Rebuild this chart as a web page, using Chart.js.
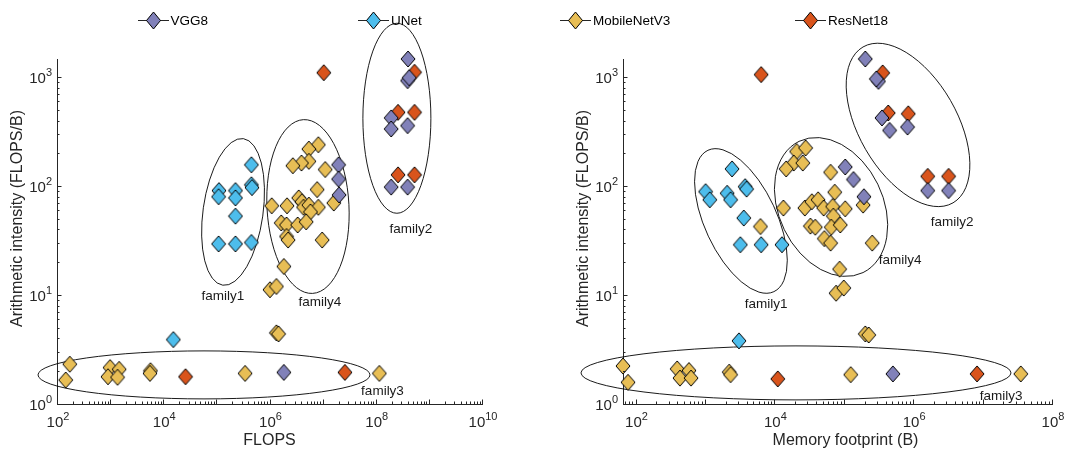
<!DOCTYPE html>
<html>
<head>
<meta charset="utf-8">
<title>Arithmetic intensity vs FLOPS and memory footprint</title>
<script src="https://cdn.jsdelivr.net/npm/chart.js@4.4.1/dist/chart.umd.min.js"></script>
<style>
  html, body { margin: 0; padding: 0; background: #fff; }
  #wrap { position: relative; width: 1075px; height: 452px; overflow: hidden;
          font-family: "Liberation Sans", Arial, Helvetica, sans-serif; }
  #wrap canvas { position: absolute; top: 0; }
  #cFlops { left: 0; }
  #cMem { left: 537px; }
  .leg { position: absolute; top: 10px; height: 20px; display: flex; align-items: center;
         font-size: 13.5px; color: #000; white-space: nowrap; }
  .leg span { margin-left: 2px; }
</style>
</head>
<body>
<div id="wrap">
  <canvas id="cFlops" width="537" height="452"></canvas>
  <canvas id="cMem" width="538" height="452"></canvas>
</div>
<script>
// ---- series ----
const seriesNames  = ['VGG8', 'UNet', 'MobileNetV3', 'ResNet18'];
const seriesColors = ['#8181B9', '#4DBDEC', '#E8BE55', '#D9541C'];

// [FLOPS, arithmetic intensity]
const vgg8ByFlops = [
  [4.05e8, 1470], [3.98e8, 930], [4.27e8, 990], [1.95e8, 423], [1.95e8, 335], [3.98e8, 359],
  [1.95e8, 98], [3.98e8, 98], [2.0e7, 157], [2.0e7, 116], [2.04e7, 83], [1.86e6, 1.95]
];
const unetByFlops = [
  [4.57e5, 157], [4.57e5, 103], [4.68e5, 97], [1.12e5, 91], [1.10e5, 80], [2.29e5, 91],
  [2.29e5, 78], [2.29e5, 53], [1.10e5, 29.5], [2.29e5, 29.5], [4.57e5, 30.4], [1.55e4, 3.9]
];
const mobilenetByFlops = [
  [174, 2.32], [146, 1.66], [1000, 2.16], [912, 1.78], [1480, 2.08], [1380, 1.76],
  [5750, 2.02], [5620, 1.91], [3.47e5, 1.91], [1.17e8, 1.91],
  [1.35e6, 4.5], [1.48e6, 4.4], [1.02e6, 11.2], [1.35e6, 12.0], [1.86e6, 18.3],
  [8.3e6, 240], [5.5e6, 219], [5.5e6, 169], [4.0e6, 163], [2.75e6, 154], [1.12e7, 142],
  [7.9e6, 93], [1.62e7, 70], [1.1e6, 66], [2.14e6, 66], [3.55e6, 78], [4.07e6, 72],
  [4.37e6, 64], [5.5e6, 67], [8.3e6, 64], [5.9e6, 58], [1.66e6, 46], [2.09e6, 44],
  [3.39e6, 44], [4.9e6, 47], [2.09e6, 34.5], [2.24e6, 32], [9.8e6, 32]
];
const resnetByFlops = [
  [1.05e7, 1100], [5.37e8, 1110], [2.63e8, 476], [5.37e8, 476], [2.63e8, 127], [5.37e8, 127],
  [2.63e4, 1.78], [2.63e7, 1.95]
];

// [memory footprint (B), arithmetic intensity]
const vgg8ByMemory = [
  [2.04e5, 1470], [3.16e5, 917], [2.95e5, 965], [3.55e5, 423], [4.57e5, 325], [8.3e5, 349],
  [1.62e6, 91], [3.24e6, 91], [1.05e5, 150], [1.38e5, 115], [1.95e5, 80], [5.1e5, 1.89]
];
const unetByMemory = [
  [2455, 144], [1023, 89], [1175, 75], [2089, 86], [2344, 75], [3800, 99],
  [3981, 94], [3631, 51], [3236, 29], [6457, 29], [12880, 29], [3090, 3.8]
];
const mobilenetByMemory = [
  [66, 2.23], [78, 1.58], [398, 2.10], [437, 1.73], [589, 2.03], [631, 1.73],
  [2239, 1.96], [2344, 1.86], [1.26e5, 1.86], [3.55e7, 1.89],
  [2.04e5, 4.4], [2.29e5, 4.3], [7.76e4, 10.4], [1.0e5, 11.6], [8.7e4, 17.3],
  [2.09e4, 208], [2.82e4, 224], [1.9e4, 163], [1.48e4, 144], [2.57e4, 163], [6.46e4, 134],
  [7.41e4, 88], [1.35e4, 63], [2.75e4, 63], [3.47e4, 72], [4.27e4, 75], [5.13e4, 63],
  [6.92e4, 65], [1.05e5, 62], [7.08e4, 53], [1.9e5, 67], [3.31e4, 43], [3.89e4, 42],
  [6.61e4, 42], [8.91e4, 44], [5.25e4, 33], [6.46e4, 30], [2.57e5, 30], [6310, 42.6]
];
const resnetByMemory = [
  [6457, 1057], [3.63e5, 1096], [4.37e5, 470], [8.51e5, 462], [1.62e6, 123], [3.24e6, 123],
  [1.12e4, 1.70], [8.32e6, 1.89]
];

// ---- axes ----
const intensityRange = [1, 1470];
const flopsRange     = [1e2, 1e10];
const memoryRange    = [66, 1e8];
const intensityTickExp = [0, 1, 2, 3];
const flopsTickExp     = [2, 4, 6, 8, 10];
const memoryTickExp    = [2, 4, 6, 8];
const intensityTitle = 'Arithmetic intensity (FLOPS/B)';

// ---- cluster outlines (centre in data units, radii in px, rotation in degrees) ----
const familiesByFlops = [
  { name: 'family1', cx: 2.06e5, cy: 58,   rx: 30,  ry: 74, rot: 8,  tx: 1.33e5, ty: 9.8 },
  { name: 'family4', cx: 5.3e6,  cy: 65,   rx: 41,  ry: 87, rot: -3, tx: 8.9e6,  ty: 8.6 },
  { name: 'family2', cx: 2.5e8,  cy: 420,  rx: 34,  ry: 95, rot: 0,  tx: 4.6e8,  ty: 40.5 },
  { name: 'family3', cx: 5.85e4, cy: 1.85, rx: 166, ry: 24, rot: 0,  tx: 1.34e8, ty: 1.32 }
];
const familiesByMemory = [
  { name: 'family1', cx: 3.3e3,  cy: 47.9, rx: 78,  ry: 36, rot: 65, tx: 7.6e3,  ty: 8.3 },
  { name: 'family4', cx: 6.56e4, cy: 64.4, rx: 73,  ry: 52, rot: 64, tx: 6.47e5, ty: 21 },
  { name: 'family2', cx: 8.43e5, cy: 365,  rx: 90,  ry: 49, rot: 60, tx: 3.63e6, ty: 46.9 },
  { name: 'family3', cx: 2.05e4, cy: 1.93, rx: 215, ry: 27, rot: 0,  tx: 1.85e7, ty: 1.18 }
];

const FONT = '"Liberation Sans", Arial, Helvetica, sans-serif';
const AXIS_COLOR = '#262626';

// diamond marker as a small canvas image
function diamond(color) {
  const w = 14, h = 16, c = document.createElement('canvas');
  c.width = w + 2; c.height = h + 2;
  const g = c.getContext('2d');
  g.beginPath();
  g.moveTo(1 + w / 2, 1);
  g.lineTo(1 + w, 1 + h / 2);
  g.lineTo(1 + w / 2, 1 + h);
  g.lineTo(1, 1 + h / 2);
  g.closePath();
  g.fillStyle = color; g.fill();
  g.lineWidth = 1; g.strokeStyle = '#000'; g.stroke();
  return c;
}
const markers = seriesColors.map(diamond);

function logTicks(min, max) {
  const out = [];
  for (let e = Math.floor(Math.log10(min)); e <= Math.ceil(Math.log10(max)); e++) {
    for (let m = 1; m <= 9; m++) {
      const v = m * Math.pow(10, e);
      if (v >= min * 0.9999 && v <= max * 1.0001) out.push({ v, major: m === 1 });
    }
  }
  return out;
}

// power-of-ten label: "10" with a raised exponent
function powerLabel(ctx, exp, x, y, align) {
  const base = '10', sup = String(exp);
  ctx.font = '15px ' + FONT;
  const wb = ctx.measureText(base).width;
  ctx.font = '11px ' + FONT;
  const ws = ctx.measureText(sup).width;
  const total = wb + ws;
  const left = align === 'right' ? x - total : x - total / 2;
  ctx.textAlign = 'left';
  ctx.textBaseline = 'alphabetic';
  ctx.font = '15px ' + FONT;
  ctx.fillText(base, left, y);
  ctx.font = '11px ' + FONT;
  ctx.fillText(sup, left + wb, y - 7.5);
}

const matlabAxes = {
  id: 'matlabAxes',
  beforeDatasetsDraw(chart, args, o) {
    const { ctx, scales: { x, y } } = chart;
    ctx.save();
    ctx.strokeStyle = '#000';
    ctx.lineWidth = 0.9;
    for (const f of o.families) {
      const px = x.getPixelForValue(f.cx), py = y.getPixelForValue(f.cy);
      ctx.beginPath();
      ctx.ellipse(px, py, f.rx, f.ry, f.rot * Math.PI / 180, 0, 2 * Math.PI);
      ctx.stroke();
    }
    ctx.restore();
  },
  afterDraw(chart, args, o) {
    const { ctx, chartArea: a, scales: { x, y } } = chart;
    ctx.save();
    ctx.strokeStyle = AXIS_COLOR;
    ctx.fillStyle = AXIS_COLOR;
    ctx.lineWidth = 1;
    // inward tick marks
    ctx.beginPath();
    for (const t of logTicks(x.min, x.max)) {
      const px = Math.round(x.getPixelForValue(t.v)) + 0.5;
      ctx.moveTo(px, a.bottom);
      ctx.lineTo(px, a.bottom - (t.major ? 4.5 : 2.5));
    }
    for (const t of logTicks(y.min, y.max)) {
      const py = Math.round(y.getPixelForValue(t.v)) + 0.5;
      ctx.moveTo(a.left, py);
      ctx.lineTo(a.left + (t.major ? 4.5 : 2.5), py);
    }
    ctx.stroke();
    // tick labels
    for (const e of o.xTickExp) powerLabel(ctx, e, x.getPixelForValue(Math.pow(10, e)) + 1, a.bottom + 23, 'center');
    for (const e of o.yTickExp) powerLabel(ctx, e, a.left - 5, y.getPixelForValue(Math.pow(10, e)) + 6, 'right');
    // axis titles
    ctx.font = '16px ' + FONT;
    ctx.textAlign = 'center';
    ctx.textBaseline = 'middle';
    ctx.fillText(o.xTitle, (a.left + a.right) / 2 + o.xTitleShift, a.bottom + 37);
    ctx.save();
    ctx.translate(a.left - 39, (a.top + a.bottom) / 2 - 13);
    ctx.rotate(-Math.PI / 2);
    ctx.fillText(o.yTitle, 0, 0);
    ctx.restore();
    // cluster names
    ctx.fillStyle = '#1a1a1a';
    ctx.font = '13.5px ' + FONT;
    for (const f of o.families) {
      ctx.fillText(f.name, x.getPixelForValue(f.tx), y.getPixelForValue(f.ty));
    }
    ctx.restore();
  }
};

function makeChart(id, sets, xRange, xTickExp, xTitle, xTitleShift, families, padding) {
  return new Chart(document.getElementById(id), {
    type: 'scatter',
    data: {
      datasets: sets.map((pts, i) => ({
        label: seriesNames[i],
        data: pts.map(([x, y]) => ({ x, y })),
        pointStyle: markers[i],
        pointRadius: 8,
        backgroundColor: seriesColors[i],
        borderColor: '#000',
        clip: false
      }))
    },
    options: {
      responsive: false,
      animation: false,
      events: [],
      layout: { padding },
      plugins: {
        legend: { display: false },
        tooltip: { enabled: false },
        matlabAxes: { families, xTickExp, yTickExp: intensityTickExp, xTitle, xTitleShift, yTitle: intensityTitle }
      },
      scales: {
        x: {
          type: 'logarithmic', min: xRange[0], max: xRange[1],
          grid: { display: false, drawTicks: false },
          ticks: { display: false },
          border: { display: true, color: AXIS_COLOR, width: 1 }
        },
        y: {
          type: 'logarithmic', min: intensityRange[0], max: intensityRange[1],
          grid: { display: false, drawTicks: false },
          ticks: { display: false },
          border: { display: true, color: AXIS_COLOR, width: 1 }
        }
      }
    },
    plugins: [matlabAxes]
  });
}

makeChart('cFlops',
  [vgg8ByFlops, unetByFlops, mobilenetByFlops, resnetByFlops],
  flopsRange, flopsTickExp, 'FLOPS', 0, familiesByFlops,
  { left: 57, right: 55, top: 59, bottom: 48 });

makeChart('cMem',
  [vgg8ByMemory, unetByMemory, mobilenetByMemory, resnetByMemory],
  memoryRange, memoryTickExp, 'Memory footprint (B)', 8, familiesByMemory,
  { left: 86, right: 23, top: 59, bottom: 48 });

// shared legend across the top
const legendLeft = [137.5, 358, 560, 795];
const wrap = document.getElementById('wrap');
seriesNames.forEach((name, i) => {
  const d = document.createElement('div');
  d.className = 'leg';
  d.style.left = legendLeft[i] + 'px';
  d.innerHTML =
    '<svg width="31" height="20" viewBox="0 0 31 20">' +
    '<line x1="0" y1="10.5" x2="31" y2="10.5" stroke="#262626" stroke-width="1"/>' +
    '<polygon points="15.5,2 22.5,10.5 15.5,19 8.5,10.5" fill="' + seriesColors[i] + '" stroke="#000" stroke-width="1"/>' +
    '</svg><span>' + name + '</span>';
  wrap.appendChild(d);
});
</script>
</body>
</html>
